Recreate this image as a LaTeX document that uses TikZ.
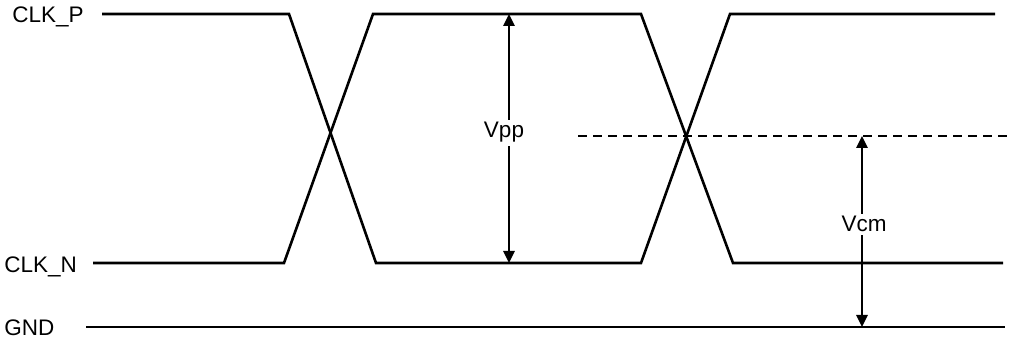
\documentclass[tikz,border=0pt]{standalone}
\usepackage{fontspec}
\setmainfont{Liberation Sans}
\usetikzlibrary{arrows.meta}
\begin{document}
\begin{tikzpicture}[x=1pt, y=-1pt, line width=2.6pt, line join=miter, font=\fontsize{22.5}{26}\selectfont,
	lvl/.style={line width=2.6pt},
	dim/.style={line width=2.6pt, {Triangle[length=12pt,width=11pt]}-{Triangle[length=12pt,width=11pt]}},
	tag/.style={inner sep=0pt, anchor=base west},
	val/.style={fill=white, inner sep=3pt, anchor=base}]
	\useasboundingbox (0,0) rectangle (1013,339);
	% signal names
	\node[tag] (clkp) at (11,23) {CLK\_P};
	\node[tag] (clkn) at (3,273) {CLK\_N};
	\node[tag] (gnd) at (3,336) {GND};
	% waveforms
	\draw[lvl] (102,14) -- (289,14) -- (376,263) -- (641,263) -- (730,14) -- (995,14);
	\draw[lvl] (93,263) -- (284,263) -- (373,14) -- (641,14) -- (733,263) -- (1003,263);
	\draw[lvl] (86,327) -- (1005,327);
	\draw[lvl, dash pattern=on 9pt off 6pt] (578,136) -- (1007,136);
	% dimensions
	\coordinate (pptop) at (509,14);
	\coordinate (ppbot) at (509,263);
	\coordinate (cmtop) at (862,136);
	\coordinate (cmbot) at (862,327);
	\draw[dim] (pptop) -- (ppbot);
	\draw[dim] (cmtop) -- (cmbot);
	\node[val] (vpp) at (504,138) {Vpp};
	\node[val] (vcm) at (864,232) {Vcm};
\end{tikzpicture}
\end{document}
